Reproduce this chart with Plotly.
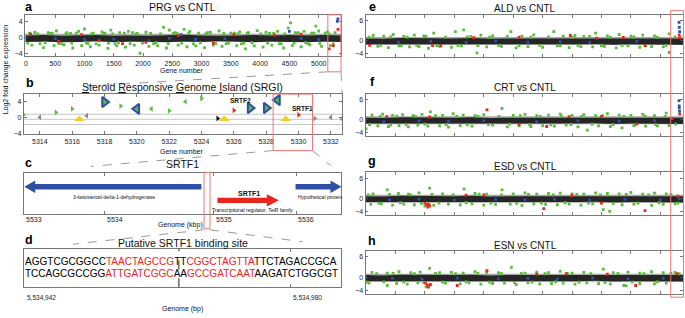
import plotly.graph_objects as go

W, H = 685, 318
def fx(p): return p / W
def fy(p): return 1 - p / H

GREEN = '#5dbb3f'; RED = '#e8261e'; BLUE = '#2d50a5'; BANDC = '#a8a8a8'; AX = '#555555'
YEL = '#f2cf1d'; BOXRED = '#f07575'
FONT = 'Liberation Sans'

# ---------------- data ----------------
band_x = [0, 300, 600, 900, 1200, 1500, 1800, 2100, 2400, 2700, 3000, 3300, 3600, 3900, 4200, 4500, 4800, 5100, 5390]

# panel a : PRG vs CNTL
a_hi = [0.5, 0.6, 0.4, 0.5, 0.6, 0.4, 0.5, 0.4, 0.6, 0.7, 0.5, 0.4, 0.5, 0.6, 0.5, 0.6, 0.5, 0.6, 0.5]
a_lo = [-1.1, -1.0, -1.2, -1.1, -0.9, -1.2, -1.0, -1.1, -1.2, -1.0, -1.1, -0.9, -1.1, -1.2, -1.0, -1.1, -1.2, -1.0, -1.1]
a_gx = [150, 420, 520, 700, 900, 1000, 1150, 1300, 1450, 1600, 1750, 1900, 2050, 2350, 2450, 2550, 2700, 2800, 2950, 3150,
        3300, 3500, 3650, 3800, 3950, 4100, 4300, 4480, 4520, 4600, 4750, 4880, 4950, 5000, 5150,
        100, 300, 480, 650, 800, 950, 1100, 1250, 1400, 1550, 1700, 1850, 1950, 2100, 2250, 2400, 2600, 2750, 2900, 3050,
        3200, 3350, 3600, 3750, 3900, 4050, 4200, 4400, 4550, 4700, 4850, 5050, 5200,
        60, 240, 380, 610, 760, 1060, 1350, 1520, 1820, 2180, 2520, 2860, 3100, 3420, 3560, 3720, 4160, 4360, 4650, 4820, 5110, 5250,
        30, 200, 330, 450, 560, 680, 780, 860, 1030, 1120, 1200, 1330, 1410, 1480, 1580, 1680, 1780, 1880, 1990, 2130,
        2220, 2300, 2430, 2580, 2660, 2780, 2980, 3070, 3240, 3380, 3460, 3620, 3680, 3780, 3860, 4010, 4130, 4230, 4330, 4420,
        4580, 4630, 4780, 4920, 5020, 5180, 5280]
a_gy = [1.3, 1.0, 1.6, 1.2, 1.5, 2.1, 1.1, 1.4, 1.8, 1.2, 1.5, 1.0, 1.3, 2.5, 1.8, 1.2, 2.0, 1.5, 1.1, 1.3,
        1.6, 1.1, 1.4, 1.2, 1.7, 1.3, 1.5, 2.3, 3.6, 1.2, 1.5, 1.1, 2.8, 1.6, 1.4,
        -1.9, -2.5, -2.0, -1.8, -2.6, -2.0, -2.3, -1.9, -2.7, -2.1, -2.4, -1.9, -3.9, -2.2, -2.0, -2.6, -1.9, -2.3, -2.1, -2.5,
        -1.9, -2.2, -2.0, -2.8, -2.1, -2.4, -1.9, -2.6, -2.0, -2.3, -1.8, -2.2, -2.0,
        1.1, -1.5, 1.2, -1.6, 1.0, -1.5, 1.1, -1.6, 1.2, -1.5, 1.0, -1.6, 1.2, -1.5, 1.1, -1.4, 1.0, -1.6, 1.2, -1.5, 1.1, -1.6,
        -1.4, 0.9, -1.3, 1.0, -1.5, 0.9, -1.4, 1.1, -1.3, 0.9, -1.6, 1.0, -1.4, 0.9, -1.3, 1.1, -1.5, 0.9, -1.4, 1.0,
        -1.3, 0.9, -1.5, 1.0, -1.4, 1.1, -1.3, 0.9, -1.5, 1.0, -1.4, 0.9, -1.6, 1.1, -1.3, 0.9, -1.4, 1.0, -1.5, 0.9,
        -1.4, 1.0, -1.3, 1.1, -1.5, 0.9, 1.2]
a_rx = [80, 560, 950, 1250, 1650, 2050, 2600, 3200, 3550, 4250, 4700, 5180, 5250, 5330]
a_ry = [0.8, -1.0, 0.7, -0.8, -1.5, -1.2, 0.5, -1.4, 0.7, 0.6, 0.8, -2.8, -2.0, 2.0]
a_bx = [500, 1000, 1500, 2100, 2450, 2650, 2900, 3400, 4500, 4700, 5000, 5318, 5328]
a_by = [-0.3, -0.5, -0.4, -0.8, -0.2, 0.7, -0.5, -0.3, 1.5, -0.2, -0.5, 4.0, 4.6]

# panels e-h
e_hi = [0.6, 0.5, 0.7, 0.6, 0.5, 0.6, 0.7, 0.5, 0.6, 0.6, 0.5, 0.7, 0.6, 0.5, 0.6, 0.7, 0.6, 0.5, 0.6]
e_lo = [-1.2, -1.3, -1.1, -1.2, -1.3, -1.2, -1.1, -1.3, -1.2, -1.1, -1.3, -1.2, -1.2, -1.1, -1.3, -1.2, -1.1, -1.2, -1.3]
e_gx = [120, 300, 460, 640, 820, 980, 1150, 1517, 1658, 1780, 1950, 2150, 2460, 2650, 2850, 3190, 3350, 3550, 3700, 3900, 4100, 4300, 4500, 4700, 4900, 5150,
        200, 380, 560, 740, 900, 1060, 1250, 1450, 1620, 1884, 2050, 2300, 2550, 2750, 3000, 3250, 3450, 3650, 3850, 4050, 4250, 4450, 4650, 4850, 5050, 5150,
        50, 250, 420, 600, 700, 860, 1020, 1200, 1350, 1560, 1720, 1900, 2100, 2250, 2400, 2600, 2800, 2950, 3100, 3300,
        3500, 3600, 3800, 4000, 4150, 4350, 4550, 4750, 4950, 5100, 5250]
e_gy = [1.5, 1.3, 1.8, 1.2, 1.6, 1.4, 2.2, 2.7, 3.2, 1.2, 1.6, 1.4, 2.7, 1.3, 1.7, 2.7, 1.3, 1.5, 1.2, 2.2, 1.4, 1.8, 1.3, 1.6, 1.4, 2.0,
        -1.8, -2.2, -1.7, -2.0, -1.9, -2.4, -1.8, -2.1, -1.7, -3.8, -2.0, -1.8, -2.3, -1.9, -2.1, -1.7, -2.2, -1.9, -2.0, -1.8, -2.3, -1.7, -2.1, -1.9, -2.0, -3.7,
        1.0, -1.5, 1.1, -1.6, 1.0, -1.5, 1.2, -1.6, 1.0, -1.5, 1.1, -1.6, 1.0, -1.5, 1.2, -1.6, 1.0, -1.5, 1.1, -1.6,
        1.0, -1.5, 1.2, -1.6, 1.0, -1.5, 1.1, -1.6, 1.0, -1.5, 1.1]
e_rx = [60, 1130, 1270, 1830, 2600, 3470, 3920, 4370, 4740, 5320, 5326]
e_ry = [-1.5, -1.6, -1.6, 0.8, 1.0, 1.5, 0.7, 0.9, -1.6, 1.7, 0.8]
e_bx = [550, 1100, 1700, 2200, 2750, 3300, 3800, 4600, 5318, 5322, 5328]
e_by = [-0.5, -0.3, -0.6, -0.2, -0.5, -0.4, -0.6, -0.3, 5.5, 4.0, 2.7]

f_gx = [100, 280, 450, 620, 800, 950, 1093, 1300, 1480, 1650, 1850, 2000, 2310, 2500, 2700, 2900, 3100, 3300, 3500, 3700, 3900, 4100, 4300, 4500, 4700, 4900, 5100,
        0, 200, 380, 560, 720, 880, 1050, 1250, 1400, 1600, 1800, 2150, 2400, 2600, 2800, 3000, 3200, 3400, 3600, 3760, 3950, 4150, 4350, 4550, 4750, 4950, 5150,
        60, 240, 420, 520, 680, 840, 1000, 1180, 1360, 1540, 1720, 1900, 2080, 2260, 2440, 2620, 2780, 2960, 3140, 3320,
        3480, 3660, 3840, 4020, 4200, 4380, 4560, 4740, 4920, 5080, 5260]
f_gy = [1.4, 1.7, 1.3, 1.5, 1.2, 1.6, 2.4, 1.3, 1.8, 1.4, 1.2, 1.5, 3.4, 1.3, 1.6, 1.2, 1.4, 1.7, 1.3, 1.5, 1.2, 1.8, 1.4, 1.3, 1.6, 1.2, 2.0,
        -2.8, -1.9, -2.1, -1.8, -2.2, -1.7, -2.0, -1.9, -2.3, -1.8, -2.0, -1.7, -2.2, -1.9, -2.1, -1.8, -2.0, -1.7, -2.2, -3.2, -1.9, -2.1, -2.5, -1.8, -2.0, -1.9, -1.8,
        -1.5, 1.0, -1.6, 1.1, -1.5, 1.0, -1.4, 1.2, -1.5, 1.0, -1.6, 1.1, -1.5, 1.0, -1.4, 1.2, -1.5, 1.0, -1.6, 1.1,
        -1.5, 1.0, -1.4, 1.2, -1.5, 1.0, -1.6, 1.1, -1.5, 1.0, -1.4]
f_rx = [350, 1080, 2054, 2600, 3070, 3450, 4000, 4600, 5330, 5200]
f_ry = [0.9, 0.8, 3.0, -1.5, -2.1, 0.9, 1.0, -1.4, 1.7, 0.3]
f_bx = [300, 900, 1400, 2000, 2900, 3600, 4300, 4900, 5318, 5320, 5322, 5326]
f_by = [-0.6, -0.4, -0.5, -0.3, -0.6, -0.4, -0.5, -0.3, 5.8, 4.2, 3.5, 2.5]

g_gx = [120, 360, 550, 720, 900, 1080, 1300, 1665, 1850, 2050, 2310, 2500, 2700, 2900, 3100, 3300, 3500, 3700, 3900, 4100, 4300, 4500, 4700, 4900, 5100,
        80, 260, 450, 640, 820, 1000, 1150, 1400, 1600, 1800, 2000, 2200, 2450, 2650, 2850, 3050, 3250, 3450, 3650, 3850, 4030, 4140, 4350, 4550, 4850, 5050, 5250,
        40, 220, 400, 580, 760, 940, 1120, 1240, 1480, 1700, 1920, 2120, 2300, 2560, 2760, 2980, 3180, 3380, 3580, 3780,
        3980, 4200, 4420, 4620, 4800, 4980, 5180, 5300]
g_gy = [1.3, 2.5, 1.4, 1.2, 1.6, 3.0, 1.3, 2.8, 1.4, 1.2, 2.5, 1.3, 1.6, 1.2, 1.4, 1.5, 1.3, 1.2, 1.6, 1.4, 1.3, 1.7, 1.2, 1.5, 1.3,
        -1.9, -1.7, -2.1, -1.8, -2.0, -2.4, -2.2, -1.8, -2.0, -1.7, -2.1, -1.9, -1.8, -2.2, -1.7, -1.9, -2.0, -1.8, -2.1, -1.7, -3.5, -4.0, -2.0, -1.8, -2.2, -1.9, -1.7,
        1.0, -1.5, 1.1, -1.4, 1.0, -1.6, 1.1, -1.5, 1.0, -1.4, 1.2, -1.5, 1.0, -1.6, 1.1, -1.5, 1.0, -1.4, 1.1, -1.5,
        1.0, -1.6, 1.1, -1.5, 1.0, -1.4, 1.1, -1.5]
g_rx = [1000, 1030, 1050, 1080, 1060, 1700, 2000, 3020, 3500, 4000, 4740, 5300]
g_ry = [-1.5, -2.0, -2.7, -2.3, -1.8, 0.9, 1.0, -3.2, 0.8, -1.5, -3.8, 0.6]
g_bx = [400, 900, 1500, 2200, 2700, 3200, 3800, 4400, 5000, 5320]
g_by = [-0.5, -0.3, -0.6, -0.4, -0.5, -0.3, -0.6, -0.4, -0.5, -0.2]

h_gx = [100, 360, 560, 760, 920, 1080, 1250, 1450, 1650, 1850, 2050, 2250, 2470, 2700, 2900, 3100, 3300, 3500, 3700, 4030, 4200, 4450, 4650, 4850, 5050, 5250,
        50, 360, 520, 700, 880, 1020, 1100, 1350, 1600, 1750, 1950, 2150, 2350, 2550, 2750, 2950, 3150, 3350, 3550, 3750, 3950, 4150, 4380, 4420, 4650, 4900, 5100,
        20, 180, 300, 460, 640, 820, 980, 1180, 1300, 1520, 1700, 1900, 2100, 2300, 2520, 2640, 2820, 3040, 3220, 3420,
        3620, 3820, 4060, 4280, 4520, 4720, 4950, 5180, 5320]
h_gy = [1.4, 1.2, 1.6, 1.3, 1.5, 2.6, 1.3, 1.4, 1.2, 1.6, 1.4, 1.3, 2.9, 1.2, 1.5, 1.3, 1.7, 1.2, 1.4, 2.4, 1.3, 1.5, 1.2, 1.6, 1.3, 1.4,
        -1.8, -2.5, -1.9, -2.1, -1.7, -2.9, -2.3, -1.8, -2.0, -1.7, -2.1, -1.9, -1.8, -2.2, -1.7, -2.0, -1.9, -1.8, -2.1, -1.7, -1.9, -2.0, -2.5, -2.6, -1.9, -2.0, -1.8,
        -1.5, 1.0, -1.4, 1.1, -1.5, 1.0, -1.6, 1.1, -1.5, 1.0, -1.4, 1.2, -1.5, 1.0, -1.6, 1.1, -1.5, 1.0, -1.4, 1.1,
        -1.5, 1.0, -1.6, 1.1, -1.5, 1.0, -1.4, 1.1, 1.0]
h_rx = [1010, 1040, 1060, 1090, 1550, 2054, 2900, 3400, 4580, 4100, 5280]
h_ry = [-1.8, -2.4, -3.0, -2.2, -2.5, 1.9, 0.9, 1.0, -2.5, 0.9, 1.0]
h_bx = [450, 950, 1550, 2250, 2750, 3250, 3850, 4450, 5050]
h_by = [-0.4, -0.6, -0.3, -0.5, -0.4, -0.6, -0.3, -0.5, -0.4]

# panel b : SRGI genes (gene number, log2 FC, kind)
b_gene = [5313.0, 5314.0, 5315.0, 5316.0, 5316.9, 5318.0, 5319.0, 5320.0, 5320.9, 5322.0, 5323.0, 5324.0,
          5325.0, 5326.0, 5327.0, 5328.0, 5328.7, 5330.0, 5331.0, 5332.0, 5332.7]
b_fc = [0.7, 0.1, 1.3, 2.2, 0.5, 3.9, 2.9, 2.2, 2.2, 1.7, 4.0, 4.8,
        -0.2, 1.8, 2.4, 2.4, 4.4, 0.7, -0.2, 0.1, -0.4]
b_kind = ['gR', 'kL', 'gR', 'gR', 'kL', 'BR', 'gR', 'BL', 'gL', 'gR', 'gL', 'gR',
          'dR', 'rR', 'BR', 'BR', 'BL', 'rR', 'kR', 'kL', 'kL']
b_yellow = [5316.45, 5325.4, 5329.2]
b_yellow_fc = [-0.2, -0.2, -0.2]
b_hlines = [0.85, -0.4, -1.7]

# panel c : genes (kbp), drawn not to scale as in the original
c_tail = [5534.954, 5535.131, 5535.993]
c_tip = [5533.0, 5535.809, 5536.5]
c_row = [0.66, 0.33, 0.66]
c_col = [BLUE, RED, BLUE]
c_tickpos = [5533.0, 5533.89, 5535.09, 5536.0]
c_ticktxt = ['5533', '5534', '5535', '5536']

# panel d : sequence
d_start = 5534942
d_top = 'AGGTCGCGGCCTAACTAGCCGTTCGGCTAGTTATTCTAGACCGCA'
d_bot = 'TCCAGCGCCGGATTGATCGGCAAGCCGATCAATAAGATCTGGCGT'
d_red_runs = [(11, 21), (23, 33)]
d_ticks = [5534942, 5534980]
d_center = 5534964

# ---------------- figure ----------------
fig = go.Figure()

def dom_x(l, r): return [fx(l), fx(r)]
def dom_y(t, b): return [fy(b), fy(t)]

axstyle = dict(showline=True, linecolor=AX, linewidth=0.8, mirror='ticks', ticks='inside', ticklen=3,
               tickcolor=AX, tickwidth=0.8, showgrid=False, zeroline=False,
               tickfont=dict(family=FONT, size=7, color='#222'))

layout = dict(width=W, height=H, margin=dict(l=0, r=0, t=0, b=0), paper_bgcolor='white', plot_bgcolor='white',
              showlegend=False, font=dict(family=FONT))

panels = {
    1: (dom_x(24, 341), dom_y(15, 57)),
    2: (dom_x(22.7, 341.7), dom_y(95, 135.7)),
    3: (dom_x(23.3, 341), dom_y(174.3, 216)),
    4: (dom_x(23.3, 340.7), dom_y(251, 290)),
    5: (dom_x(365, 683.3), dom_y(15, 57.3)),
    6: (dom_x(365, 683.3), dom_y(95, 137.3)),
    7: (dom_x(365, 683.3), dom_y(174, 216.7)),
    8: (dom_x(365, 683.3), dom_y(253.3, 296.7)),
}
for i, (xd, yd) in panels.items():
    sx = '' if i == 1 else str(i)
    layout['xaxis' + sx] = dict(axstyle, domain=xd, anchor='y' + sx)
    layout['yaxis' + sx] = dict(axstyle, domain=yd, anchor='x' + sx)

layout['xaxis'].update(range=[-17, 5390], tickvals=list(range(0, 5001, 500)))
layout['yaxis'].update(range=[-4.7, 5.6], tickvals=[-4, 0, 4])
layout['xaxis2'].update(range=[5313, 5332.7], tickvals=list(range(5314, 5333, 2)))
layout['yaxis2'].update(range=[-4.2, 5.9], tickvals=[-4, 0, 4])
layout['xaxis3'].update(range=[5533, 5536.5], tickvals=c_tickpos[1:], showticklabels=False)
layout['yaxis3'].update(range=[0, 1], showticklabels=False, ticks='')
layout['xaxis4'].update(range=[d_start - 0.1, d_start + 45.2], tickvals=d_ticks[1:], showticklabels=False)
layout['yaxis4'].update(range=[0, 1], showticklabels=False, ticks='')
for i in (5, 6, 7, 8):
    layout['xaxis%d' % i].update(range=[-10, 5390], tickvals=list(range(0, 5001, 500)), showticklabels=False)
    layout['yaxis%d' % i].update(range=[-5, 7.8], tickvals=[-4, 0, 6])

shapes = []
scat = [
    (1, a_hi, a_lo, a_gx, a_gy, a_rx, a_ry, a_bx, a_by, (-1.1, 0.9)),
    (5, e_hi, e_lo, e_gx, e_gy, e_rx, e_ry, e_bx, e_by, (-1.4, 1.0)),
    (6, e_hi, e_lo, f_gx, f_gy, f_rx, f_ry, f_bx, f_by, (-1.4, 1.0)),
    (7, e_hi, e_lo, g_gx, g_gy, g_rx, g_ry, g_bx, g_by, (-1.4, 1.0)),
    (8, e_hi, e_lo, h_gx, h_gy, h_rx, h_ry, h_bx, h_by, (-1.4, 1.0)),
]
for (i, hi, lo, gx, gy, rx, ry, bx, by, band) in scat:
    sx = '' if i == 1 else str(i)
    xa, ya = 'x' + sx, 'y' + sx
    shapes.append(dict(type='rect', xref=xa, yref=ya, x0=band_x[0] - 20, x1=band_x[-1], y0=band[0], y1=band[1],
                       fillcolor=BANDC, line=dict(width=0), layer='below'))
    fig.add_trace(go.Scatter(x=band_x + band_x[::-1], y=hi + lo[::-1], fill='toself', mode='lines',
                             fillcolor='rgba(0,0,0,0.78)', line=dict(width=0), xaxis=xa, yaxis=ya, hoverinfo='skip'))
    fig.add_trace(go.Scatter(x=gx, y=gy, mode='markers', marker=dict(symbol='square', size=2.8, color=GREEN),
                             xaxis=xa, yaxis=ya))
    fig.add_trace(go.Scatter(x=bx, y=by, mode='markers', marker=dict(symbol='square', size=2.8, color=BLUE),
                             xaxis=xa, yaxis=ya))
    fig.add_trace(go.Scatter(x=rx, y=ry, mode='markers', marker=dict(symbol='square', size=2.8, color=RED),
                             xaxis=xa, yaxis=ya))

# panel b
for y in b_hlines:
    shapes.append(dict(type='line', xref='x2', yref='y2', x0=5313, x1=5332.7, y0=y, y1=y,
                       line=dict(color='#c4c4c4', width=1), layer='below'))
kcol = {'g': GREEN, 'k': '#8a8a8a', 'd': '#111111', 'r': RED, 'B': GREEN}
for k in sorted(set(b_kind)):
    xs = [g for g, kk in zip(b_gene, b_kind) if kk == k]
    ys = [f for f, kk in zip(b_fc, b_kind) if kk == k]
    big = k[0] == 'B'
    fig.add_trace(go.Scatter(
        x=xs, y=ys, mode='markers', xaxis='x2', yaxis='y2',
        marker=dict(symbol='triangle-right' if k[1] == 'R' else 'triangle-left', size=9 if big else 5,
                    color=kcol[k[0]], line=dict(color=BLUE if big else kcol[k[0]], width=2 if big else 0))))
yx, yy = [], []
for g, f in zip(b_yellow, b_yellow_fc):
    yx += [g - 0.33, g, g + 0.33, g - 0.33, None]
    yy += [f - 0.65, f + 0.75, f - 0.65, f - 0.65, None]
fig.add_trace(go.Scatter(x=yx, y=yy, mode='lines', fill='toself', fillcolor=YEL, line=dict(width=0, color=YEL),
                         xaxis='x2', yaxis='y2'))

# panel c arrows
ppk = (341 - 23.3) / 3.5
for t0, t1, r, col in zip(c_tail, c_tip, c_row, c_col):
    d = 1 if t1 > t0 else -1
    hl = (12 if col == RED else 11) / ppk
    h1, h2 = 0.065, 0.15
    xs = [t0, t1 - d * hl, t1 - d * hl, t1, t1 - d * hl, t1 - d * hl, t0, t0]
    ys = [r + h1, r + h1, r + h2, r, r - h2, r - h1, r - h1, r + h1]
    fig.add_trace(go.Scatter(x=xs, y=ys, mode='lines', fill='toself', fillcolor=col, line=dict(width=0, color=col),
                             xaxis='x3', yaxis='y3'))

# panel d sequence (one text per strand, red runs coloured, starting at the first base)
def colored(seq):
    out, pos = '', 0
    for a, b in d_red_runs:
        out += seq[pos:a] + '<span style="color:%s">%s</span>' % (RED, seq[a:b])
        pos = b
    return out + seq[pos:]
for seq, yrow in ((d_top, 0.63), (d_bot, 0.33)):
    fig.add_trace(go.Scatter(x=[d_start], y=[yrow], mode='text', text=[colored(seq)], textposition='middle right',
                             textfont=dict(family=FONT, size=10.05, color='black'), xaxis='x4', yaxis='y4'))
shapes.append(dict(type='line', xref='x4', yref='y4', x0=d_center, x1=d_center, y0=0, y1=1,
                   line=dict(color='#222', width=1, dash='dash')))

# zoom boxes and connectors (paper px)
def prect(x0, y0, x1, y1, col=BOXRED):
    shapes.append(dict(type='rect', xref='paper', yref='paper', x0=fx(x0), x1=fx(x1), y0=fy(y1), y1=fy(y0),
                       line=dict(color=col, width=1)))
def pline(x0, y0, x1, y1):
    shapes.append(dict(type='line', xref='paper', yref='paper', x0=fx(x0), x1=fx(x1), y0=fy(y0), y1=fy(y1),
                       line=dict(color='#9a9a9a', width=1, dash='dash')))
prect(327.3, 15, 340.5, 72.5)
prect(272.5, 95, 312, 152)
prect(203.3, 174, 209.3, 231)
prect(670.7, 10.7, 683.5, 300)
pline(327.3, 72.5, 76, 87.5)
pline(340.5, 72.5, 341.5, 94)
pline(272.5, 152, 90, 168)
pline(312, 152, 330, 167)
pline(203.3, 232, 72, 246.5)
pline(209.3, 232, 302, 244)

ann = []
def txt(x, y, s, size=7, bold=False, xanchor='center', color='#111', **kw):
    ann.append(dict(x=fx(x), y=fy(y), xref='paper', yref='paper', text='<b>%s</b>' % s if bold else s,
                    showarrow=False, xanchor=xanchor, yanchor='middle',
                    font=dict(family=FONT, size=size, color=color), **kw))

for s, x, y in (('a', 28, 7), ('b', 29, 84), ('c', 28, 165), ('d', 28, 242),
                ('e', 372, 7), ('f', 372, 83), ('g', 372, 163), ('h', 372, 243)):
    txt(x, y, s, size=12.5, bold=True, color='black')
txt(182, 7, 'PRG vs CNTL', 10.5)
txt(182, 88, '<u>S</u>teroid <u>R</u>esponsive <u>G</u>enome <u>I</u>sland (SRGI)', 10.5)
txt(182, 165.5, 'SRTF1', 10.5)
txt(182, 245, 'Putative SRTF1 binding site', 10.5)
for s, y in (('ALD vs CNTL', 8.5), ('CRT vs CNTL', 88), ('ESD vs CNTL', 168), ('ESN vs CNTL', 248)):
    txt(525, y, s, 10)
txt(181, 71.5, 'Gene number', 7)
txt(181, 152.5, 'Gene number', 7)
txt(180, 227, 'Genome (kbp)', 7)
txt(182, 311.5, 'Genome (bp)', 7)
txt(5, 70, 'Log2 fold change expression', 7, textangle=-90)
txt(240, 101.5, 'SRTF2', 6.5, bold=True)
txt(302, 109.5, 'SRTF1', 6.5, bold=True)
txt(113, 198.5, '3-ketosteroid-delta-1-dehydrogenase', 5)
txt(295, 198.5, 'Hypothetical protein', 5, xanchor='left')
txt(248, 195, 'SRTF1', 7, bold=True)
txt(252, 212.5, 'Transcriptional regulator, TetR family', 5)
for p, s in zip(c_tickpos, c_ticktxt):
    ann.append(dict(x=p, y=fy(221.5), xref='x3', yref='paper', text=s, showarrow=False, xanchor='left',
                    yanchor='middle', font=dict(family=FONT, size=7, color='#222')))
for p in d_ticks:
    ann.append(dict(x=p, y=fy(300.5), xref='x4', yref='paper', text='{:,}'.format(p), showarrow=False,
                    xanchor='left', yanchor='middle', font=dict(family=FONT, size=6.5, color='#222')))

layout['shapes'] = shapes
layout['annotations'] = ann
fig.update_layout(**layout)
fig.write_html('out.html', config={'displayModeBar': False, 'staticPlot': True},
               post_script="document.body.style.margin='0';document.body.style.padding='0';")
